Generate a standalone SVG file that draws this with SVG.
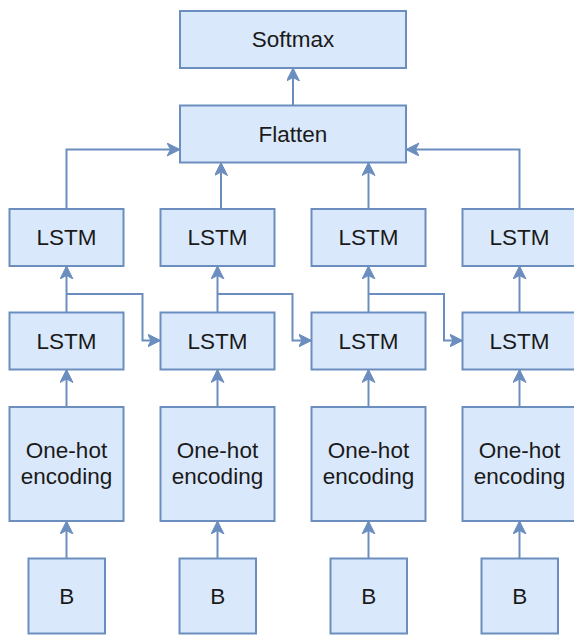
<svg xmlns="http://www.w3.org/2000/svg" width="574" height="637" viewBox="0 0 574 637">
<style>
.box{fill:#dae8fc;stroke:#6c8ebf;stroke-width:2}
.lbl{font-family:"Liberation Sans",Arial,Helvetica,sans-serif;font-size:22.5px;fill:#1a1a1a;text-anchor:middle;dominant-baseline:central}
.edge{fill:none;stroke:#6c8ebf;stroke-width:2;marker-end:url(#arr)}
</style>
<defs>
<marker id="arr" markerUnits="userSpaceOnUse" markerWidth="14" markerHeight="14" refX="13" refY="6.5" orient="auto">
<path d="M0,0 L13,6.5 L0,13 L3.5,6.5 Z" fill="#6c8ebf" stroke="#6c8ebf" stroke-width="1"/>
</marker>
</defs>
<rect width="574" height="637" fill="#ffffff"/>
<g id="connectors">
<path class="edge" d="M293,105.5 V68"/>
<path class="edge" d="M66.5,209 V149.5 H180"/>
<path class="edge" d="M221,209 V162.5"/>
<path class="edge" d="M368.5,209 V162.5"/>
<path class="edge" d="M519.5,209 V149.5 H406"/>
<path class="edge" d="M66.5,312.5 V266"/>
<path class="edge" d="M217.5,312.5 V266"/>
<path class="edge" d="M368.5,312.5 V266"/>
<path class="edge" d="M519.5,312.5 V266"/>
<path class="edge" d="M66.5,294 H142.5 V340.5 H160.5"/>
<path class="edge" d="M217.5,294 H292.5 V340.5 H311.5"/>
<path class="edge" d="M368.5,294 H444 V340.5 H462.5"/>
<path class="edge" d="M66.5,407 V369.5"/>
<path class="edge" d="M217.5,407 V369.5"/>
<path class="edge" d="M368.5,407 V369.5"/>
<path class="edge" d="M519.5,407 V369.5"/>
<path class="edge" d="M66.5,558.5 V521"/>
<path class="edge" d="M217.5,558.5 V521"/>
<path class="edge" d="M368.5,558.5 V521"/>
<path class="edge" d="M519.5,558.5 V521"/>
</g>
<g id="softmax"><rect class="box" x="180" y="11" width="226" height="57"/><text class="lbl" x="293" y="39.5">Softmax</text></g>
<g id="flatten"><rect class="box" x="180" y="105.5" width="226" height="57"/><text class="lbl" x="293" y="134">Flatten</text></g>
<g id="lstm_top_1"><rect class="box" x="9.5" y="209" width="114" height="57"/><text class="lbl" x="66.5" y="237.5">LSTM</text></g>
<g id="lstm_top_2"><rect class="box" x="160.5" y="209" width="114" height="57"/><text class="lbl" x="217.5" y="237.5">LSTM</text></g>
<g id="lstm_top_3"><rect class="box" x="311.5" y="209" width="114" height="57"/><text class="lbl" x="368.5" y="237.5">LSTM</text></g>
<g id="lstm_top_4"><rect class="box" x="462.5" y="209" width="114" height="57"/><text class="lbl" x="519.5" y="237.5">LSTM</text></g>
<g id="lstm_bot_1"><rect class="box" x="9.5" y="312.5" width="114" height="57"/><text class="lbl" x="66.5" y="341">LSTM</text></g>
<g id="lstm_bot_2"><rect class="box" x="160.5" y="312.5" width="114" height="57"/><text class="lbl" x="217.5" y="341">LSTM</text></g>
<g id="lstm_bot_3"><rect class="box" x="311.5" y="312.5" width="114" height="57"/><text class="lbl" x="368.5" y="341">LSTM</text></g>
<g id="lstm_bot_4"><rect class="box" x="462.5" y="312.5" width="114" height="57"/><text class="lbl" x="519.5" y="341">LSTM</text></g>
<g id="onehot_1"><rect class="box" x="9.5" y="407" width="114" height="114"/><text class="lbl" x="66.5" y="450.5">One-hot</text><text class="lbl" x="66.5" y="476.5">encoding</text></g>
<g id="onehot_2"><rect class="box" x="160.5" y="407" width="114" height="114"/><text class="lbl" x="217.5" y="450.5">One-hot</text><text class="lbl" x="217.5" y="476.5">encoding</text></g>
<g id="onehot_3"><rect class="box" x="311.5" y="407" width="114" height="114"/><text class="lbl" x="368.5" y="450.5">One-hot</text><text class="lbl" x="368.5" y="476.5">encoding</text></g>
<g id="onehot_4"><rect class="box" x="462.5" y="407" width="114" height="114"/><text class="lbl" x="519.5" y="450.5">One-hot</text><text class="lbl" x="519.5" y="476.5">encoding</text></g>
<g id="b_1"><rect class="box" x="28.5" y="558.5" width="76.5" height="75"/><text class="lbl" x="66.7" y="596">B</text></g>
<g id="b_2"><rect class="box" x="179.5" y="558.5" width="76.5" height="75"/><text class="lbl" x="217.7" y="596">B</text></g>
<g id="b_3"><rect class="box" x="330.5" y="558.5" width="76.5" height="75"/><text class="lbl" x="368.7" y="596">B</text></g>
<g id="b_4"><rect class="box" x="481.5" y="558.5" width="76.5" height="75"/><text class="lbl" x="519.7" y="596">B</text></g>
</svg>
